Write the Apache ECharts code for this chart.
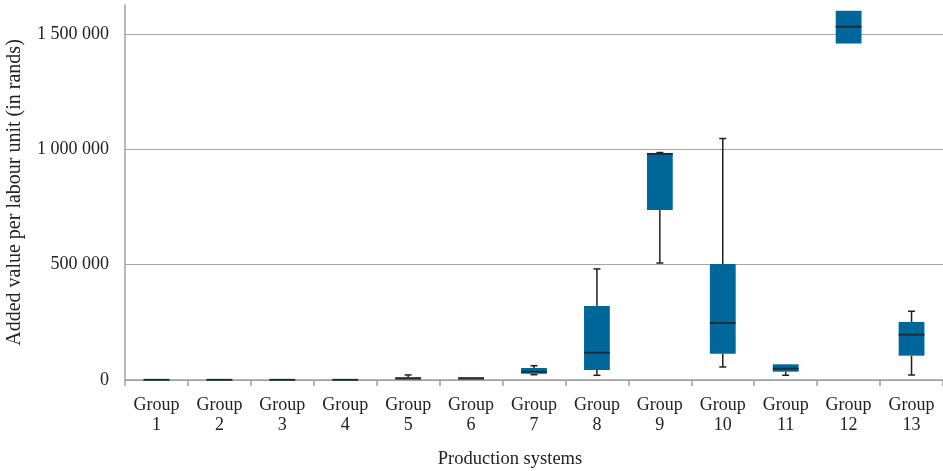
<!DOCTYPE html>
<html><head><meta charset="utf-8">
<script src="https://cdn.jsdelivr.net/npm/echarts@6/dist/echarts.min.js"></script>
<style>html,body{margin:0;padding:0;background:#fff}#c{width:943px;height:471px}</style>
</head><body><div id="c"></div>
<script>
var categories = ['Group\n1','Group\n2','Group\n3','Group\n4','Group\n5','Group\n6','Group\n7','Group\n8','Group\n9','Group\n10','Group\n11','Group\n12','Group\n13'];
var whiskerLow  = [0, 0, 0, 0, 1000, 1000, 23000, 20400, 507000, 56400, 20400, 1458000, 21700];
var quartile1   = [500, 500, 500, 500, 2000, 2000, 27000, 43400, 737000, 114000, 36000, 1458000, 105400];
var medians     = [1000, 1000, 1000, 1000, 7000, 7000, 36000, 118400, 980000, 247200, 49000, 1531000, 196400];
var quartile3   = [2000, 2000, 2000, 2000, 12000, 12000, 52000, 320900, 983000, 503000, 68000, 1600000, 251500];
var whiskerHigh = [3000, 3000, 3000, 3000, 22000, 13000, 62000, 481400, 985700, 1046400, 70000, 1600000, 297900];
var yTicks = [0, 500000, 1000000, 1500000];

var data = categories.map(function(c, i){
  return [i, whiskerLow[i], quartile1[i], medians[i], quartile3[i], whiskerHigh[i]];
});

function fmt(v){ return String(v).replace(/\B(?=(\d{3})+(?!\d))/g, ' '); }

var chart = echarts.init(document.getElementById('c'), null, {renderer:'canvas'});
var FONT = '"Liberation Serif", "DejaVu Serif", serif';
chart.setOption({
  animation: false,
  backgroundColor: '#fff',
  grid: {left: 125, right: 0, top: 5, bottom: 91, containLabel: false, outerBoundsMode: 'none'},
  xAxis: {
    type: 'category',
    data: categories,
    name: 'Production systems',
    nameLocation: 'middle',
    nameGap: 70,
    nameMoveOverlap: false,
    nameTextStyle: {fontFamily: FONT, fontSize: 18.5, color: '#222', padding: [0, 48, 0, 0]},
    axisLine: {lineStyle: {color: '#a0a0a0', width: 1.5}},
    axisTick: {show: true, length: 6, lineStyle: {color: '#a0a0a0', width: 1.5}},
    axisLabel: {fontFamily: FONT, fontSize: 18, color: '#222', lineHeight: 20, margin: 15, interval: 0},
    splitLine: {show: false}
  },
  yAxis: {
    type: 'value',
    min: 0, max: 1625000, interval: 500000,
    name: 'Added value per labour unit (in rands)',
    nameLocation: 'middle',
    nameGap: 100,
    nameMoveOverlap: false,
    nameTextStyle: {fontFamily: FONT, fontSize: 20, color: '#222'},
    axisLine: {show: true, lineStyle: {color: '#a0a0a0', width: 1.5}},
    axisTick: {show: false},
    axisLabel: {fontFamily: FONT, fontSize: 18, color: '#222', margin: 16,
      formatter: function(v){ return yTicks.indexOf(v) >= 0 ? fmt(v) : ''; }},
    splitLine: {show: true, lineStyle: {color: ['#a6a6a6','#a6a6a6','#a6a6a6','#a6a6a6','rgba(0,0,0,0)'], width: 1.2}}
  },
  series: [{
    type: 'custom',
    data: data,
    encode: {x: 0, y: [1,2,3,4,5]},
    renderItem: function(params, api){
      var idx = api.value(0);
      var band = api.size([1, 0])[0];
      var bw = band * 0.41;
      var cap = 7;
      var pMin = api.coord([idx, api.value(1)]);
      var pQ1 = api.coord([idx, api.value(2)]);
      var pMed = api.coord([idx, api.value(3)]);
      var pQ3 = api.coord([idx, api.value(4)]);
      var pMax = api.coord([idx, api.value(5)]);
      var x = pMed[0];
      var ws = {stroke: '#231f20', lineWidth: 1.5};
      var children = [];
      if (pMax[1] < pQ3[1] - 0.5) {
        children.push({type:'line', shape:{x1:x, y1:pMax[1], x2:x, y2:pQ3[1]}, style: ws});
        children.push({type:'line', shape:{x1:x-cap/2, y1:pMax[1], x2:x+cap/2, y2:pMax[1]}, style: ws});
      }
      if (pMin[1] > pQ1[1] + 0.5) {
        children.push({type:'line', shape:{x1:x, y1:pQ1[1], x2:x, y2:pMin[1]}, style: ws});
        children.push({type:'line', shape:{x1:x-cap/2, y1:pMin[1], x2:x+cap/2, y2:pMin[1]}, style: ws});
      }
      children.push({type:'rect', shape:{x:x-bw/2, y:pQ3[1], width:bw, height:Math.max(pQ1[1]-pQ3[1], 1)}, style:{fill:'#00679b'}});
      children.push({type:'line', shape:{x1:x-bw/2, y1:pMed[1], x2:x+bw/2, y2:pMed[1]}, style:{stroke:'#1b2a33', lineWidth: 1.8}});
      return {type:'group', children: children};
    }
  }]
});
</script></body></html>
